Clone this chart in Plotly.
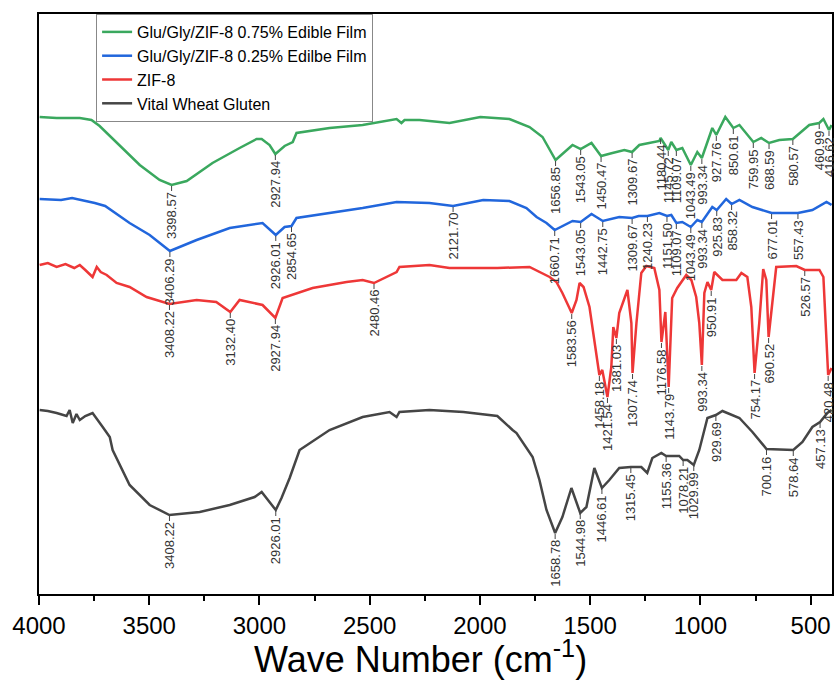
import numpy as np
import plotly.graph_objects as go

# ---------------- data (wavenumber, transmittance in arbitrary stacked units) -------------
wn_green = [3997, 3920, 3815, 3762, 3725, 3634, 3543, 3453, 3398.57, 3330, 3213, 3090, 3013, 2990,
            2954, 2927.94, 2886, 2849, 2832, 2682, 2532, 2378, 2356, 2342, 2274, 2138, 1998, 1866,
            1775, 1716, 1656.85, 1580, 1543.05, 1494, 1450.47, 1399, 1345, 1309.67, 1277, 1186,
            1180.44, 1145.72, 1132, 1109.07, 1082, 1043.49, 1014, 993.34, 946, 927.76, 887, 850.61,
            823, 759.95, 724, 688.59, 642, 580.57, 506, 460.99, 442, 416.62, 405]
t_green = [477, 476, 476, 474, 468, 449, 429, 414, 409, 413, 431, 446, 455, 455,
           449, 440, 448, 452, 461, 466, 469, 475, 471, 474, 474, 471, 477, 475,
           467, 457, 434, 449, 445, 451, 438, 441, 444, 442, 449, 453,
           456, 444, 452, 444, 446, 429, 442, 436, 466, 459, 477, 466,
           469, 452, 456, 451, 454, 455, 469, 471, 475, 464, 469]

wn_blue = [3997, 3900, 3850, 3762, 3747, 3700, 3589, 3498, 3406.29, 3285, 3135, 2986, 2926.01, 2886,
           2854.65, 2832, 2532, 2378, 2229, 2121.70, 1985, 1866, 1789, 1743, 1698, 1660.71, 1580,
           1543.05, 1494, 1442.75, 1368, 1309.67, 1280, 1240.23, 1186, 1151.50, 1132, 1109.07, 1082,
           1043.49, 1014, 993.34, 946, 925.83, 883, 858.32, 823, 764, 677.01, 628, 557.43, 492, 428, 405]
t_blue = [395, 394, 396, 392, 391, 388, 371, 359, 343, 354, 366, 371, 359, 367,
          368, 376, 386, 392, 391, 388, 394, 393, 386, 377, 371, 364, 373,
          372, 380, 373, 377, 376, 378, 378, 381, 378, 379, 371, 372,
          367, 374, 372, 387, 384, 395, 390, 394, 387, 381, 381, 381, 384, 392, 389]

wn_red = [3997, 3960, 3920, 3880, 3840, 3815, 3790, 3757, 3738, 3720, 3693, 3670, 3648, 3589, 3512,
          3408.22, 3285, 3196, 3132.40, 3090, 2986, 2927.94, 2895, 2759, 2605, 2532, 2480.46, 2378,
          2365, 2229, 2138, 1921, 1775, 1684, 1653, 1626, 1583.56, 1562, 1548, 1530, 1503, 1458.18,
          1445, 1421.54, 1404, 1395, 1381.03, 1368, 1331, 1313, 1307.74, 1290, 1268, 1245, 1209, 1186,
          1176.58, 1159, 1143.79, 1128, 1105, 1064, 1041, 1019, 1005, 993.34, 982, 968, 950.91, 937,
          900, 837, 814, 787, 769, 754.17, 733, 715, 701, 690.52, 669, 656, 565, 526.57, 460, 442,
          420.48, 405]
t_red = [329, 331, 327, 330, 326, 329, 324, 317, 327, 322, 319, 315, 311, 307, 297,
         290, 294, 292, 282, 294, 289, 276, 296, 306, 312, 314, 311, 322,
         327, 329, 326, 326, 327, 317, 312, 301, 281, 294, 311, 307, 287, 219,
         224, 197, 227, 267, 256, 281, 304, 271, 221, 271, 321, 328, 326, 304,
         252, 282, 207, 296, 306, 319, 314, 297, 271, 229, 301, 312, 304, 322,
         314, 314, 321, 317, 287, 221, 271, 325, 314, 257, 304, 327, 328, 324, 324, 317,
         219, 226]

wn_black = [3997, 3960, 3920, 3875, 3861, 3847, 3830, 3815, 3790, 3757, 3711, 3679, 3666, 3589, 3498,
            3408.22, 3271, 3135, 3022, 2990, 2926.01, 2900, 2863, 2818, 2682, 2532, 2410, 2378, 2365,
            2229, 2075, 1921, 1852, 1834, 1761, 1730, 1698, 1658.78, 1626, 1585, 1544.98, 1517, 1481,
            1446.61, 1413, 1368, 1315.45, 1268, 1241, 1218, 1177, 1155.36, 1096, 1078.21, 1059,
            1029.99, 1005, 968, 929.69, 900, 823, 764, 700.16, 578.64, 537, 492, 457.13, 424, 405]
t_black = [184, 183, 181, 178, 184, 171, 180, 174, 178, 181, 167, 157, 144, 109, 89,
           79, 82, 89, 97, 102, 84, 96, 116, 144, 164, 177, 182, 177, 182,
           184, 182, 178, 164, 161, 137, 114, 84, 61, 77, 106, 81, 87, 126,
           106, 114, 126, 127, 127, 121, 136, 141, 138, 138, 134, 134,
           129, 144, 176, 179, 183, 176, 162, 145, 144, 152, 167, 172, 181, 184]

peaks_green = ["3398.57", "2927.94", "1656.85", "1543.05", "1450.47", "1309.67", "1180.44",
               "1145.72", "1109.07", "1043.49", "993.34", "927.76", "850.61", "759.95", "688.59",
               "580.57", "460.99", "416.62"]
peaks_blue = ["3406.29", "2926.01", "2854.65", "2121.70", "1660.71", "1543.05", "1442.75",
              "1309.67", "1240.23", "1151.50", "1109.07", "1043.49", "993.34", "925.83", "858.32",
              "677.01", "557.43"]
peaks_red = ["3408.22", "3132.40", "2927.94", "2480.46", "1583.56", "1458.18", "1421.54",
             "1381.03", "1307.74", "1176.58", "1143.79", "993.34", "950.91", "754.17", "690.52",
             "526.57", "420.48"]
peaks_black = ["3408.22", "2926.01", "1658.78", "1544.98", "1446.61", "1315.45", "1155.36",
               "1078.21", "1029.99", "929.69", "700.16", "578.64", "457.13"]

names = ["Glu/Gly/ZIF-8 0.75% Edible Film", "Glu/Gly/ZIF-8 0.25% Edilbe Film", "ZIF-8",
         "Vital Wheat Gluten"]
colors = ["#3aa85e", "#2166dc", "#ee3737", "#454545"]
xticks = [4000, 3500, 3000, 2500, 2000, 1500, 1000, 500]
x_title = "Wave Number (cm<sup>-1</sup>)"

series = [(wn_green, t_green, peaks_green), (wn_blue, t_blue, peaks_blue),
          (wn_red, t_red, peaks_red), (wn_black, t_black, peaks_black)]

fig = go.Figure()
for (wn, t, pk), name, col in zip(series, names, colors):
    fig.add_trace(go.Scatter(x=wn, y=t, mode="lines", name=name,
                             line=dict(color=col, width=2.5)))

for (wn, t, pk) in series:
    wa = np.array(wn, dtype=float)[::-1]
    ta = np.array(t, dtype=float)[::-1]
    for lab in pk:
        xv = float(lab)
        yv = float(np.interp(xv, wa, ta))
        fig.add_shape(type="line", x0=xv, x1=xv, y0=yv - 1, y1=yv - 6,
                      line=dict(color="#444444", width=1))
        fig.add_annotation(x=xv, y=yv, text=lab, textangle=-90, showarrow=False,
                           xanchor="center", yanchor="top", yshift=-6, borderpad=0,
                           font=dict(size=13, color="#333333"))

# x-axis title (placed as in the reference, slightly left of the frame centre)
fig.add_annotation(xref="paper", yref="paper", x=0.4805, y=0, xanchor="center", yanchor="top",
                   yshift=-38, text=x_title, showarrow=False, font=dict(size=36, color="black"))

fig.update_layout(
    width=834, height=680,
    margin=dict(l=39, r=2, t=14, b=86),
    plot_bgcolor="white", paper_bgcolor="white",
    font=dict(family="Liberation Sans, Arial, sans-serif", color="black"),
    showlegend=True,
    legend=dict(x=0.072, y=1, xanchor="left", yanchor="top", bordercolor="#888888",
                borderwidth=1, bgcolor="white", font=dict(size=16), tracegroupgap=0),
)
fig.update_xaxes(range=[4000, 403], tickmode="array", tickvals=xticks,
                 ticktext=[str(v) for v in xticks],
                 ticks="outside", ticklen=9, tickwidth=2, tickcolor="black",
                 minor=dict(ticks="outside", ticklen=5, tickwidth=2, dtick=250, tick0=250,
                            tickcolor="black"),
                 showline=True, linecolor="black", linewidth=2, mirror=True,
                 showgrid=False, zeroline=False, tickfont=dict(size=24),
                 automargin=False)
fig.update_yaxes(range=[0, 580], showline=True, linecolor="black", linewidth=2, mirror=True,
                 showticklabels=False, ticks="", showgrid=False, zeroline=False,
                 automargin=False)

# remove the default 8px page margin so the 834x680 figure fills the window exactly
fig.write_html("out.html", config={"displayModeBar": False},
               post_script="document.body.style.margin='0';")
